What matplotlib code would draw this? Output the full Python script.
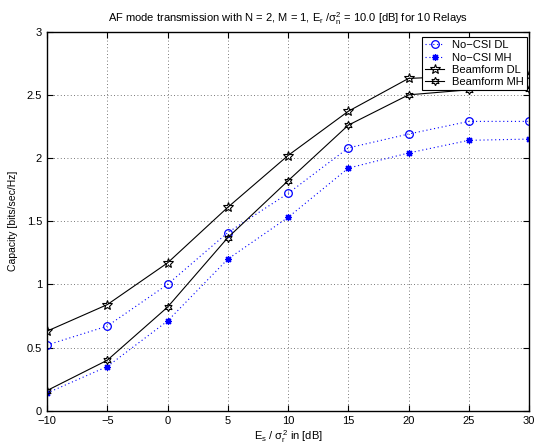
import matplotlib
matplotlib.use('Agg')
import matplotlib.pyplot as plt

plt.rcParams['font.family'] = ['Liberation Sans', 'DejaVu Sans']
plt.rcParams['mathtext.fontset'] = 'custom'
plt.rcParams['mathtext.rm'] = 'Liberation Sans'
plt.rcParams['mathtext.it'] = 'Liberation Sans'

snr = [-10, -5, 0, 5, 10, 15, 20, 25, 30]
nocsi_dl = [0.52, 0.67, 1.00, 1.41, 1.72, 2.08, 2.19, 2.29, 2.29]
nocsi_mh = [0.14, 0.35, 0.71, 1.20, 1.53, 1.92, 2.04, 2.14, 2.15]
beam_dl = [0.63, 0.84, 1.17, 1.61, 2.02, 2.37, 2.63, 2.65, 2.66]
beam_mh = [0.16, 0.40, 0.82, 1.37, 1.82, 2.26, 2.50, 2.54, 2.55]

fig = plt.figure(figsize=(5.38, 4.46), dpi=100)
ax = fig.add_axes([0.0874, 0.079, 0.896, 0.850])

ax.plot(snr, nocsi_dl, color='blue', linestyle=(0, (1, 2.5)), linewidth=0.8, marker='o',
        markerfacecolor='none', markersize=5.5, markeredgewidth=0.9, label='No\u2212CSI DL')
ax.plot(snr, nocsi_mh, color='blue', linestyle=(0, (1, 2.5)), linewidth=0.8, marker=(8, 2, 0),
        markersize=5, markeredgewidth=0.9, label='No\u2212CSI MH')
ax.plot(snr, beam_dl, color='black', linestyle='-', linewidth=0.8, marker='*',
        markerfacecolor='none', markersize=7, markeredgewidth=0.8, label='Beamform DL')
ax.plot(snr, beam_mh, color='black', linestyle='-', linewidth=0.8, marker=(6, 1, 0),
        markerfacecolor='none', markersize=6, markeredgewidth=0.8, label='Beamform MH')

ax.set_xlim(-10, 30)
ax.set_ylim(0, 3)
ax.set_xticks(range(-10, 31, 5))
ax.set_xticklabels([str(v).replace('-', '\u2212') for v in range(-10, 31, 5)])
ax.set_yticks([0, 0.5, 1, 1.5, 2, 2.5, 3])
ax.set_yticklabels(['0', '0.5', '1', '1.5', '2', '2.5', '3'])
ax.grid(True, color='black', linestyle=(0, (1, 3)), linewidth=0.6, alpha=0.7)
ax.tick_params(direction='in', top=True, right=True, labelsize=8, length=4)
for s in ax.spines.values():
    s.set_linewidth(1.0)

ax.set_xlabel(r'E$_{\mathrm{s}}$ / $\sigma^2_{\mathrm{r}}$ in [dB]', fontsize=8, labelpad=2)
ax.set_ylabel('Capacity [bits/sec/Hz]', fontsize=7.5, labelpad=6)
ax.set_title(r'AF mode transmission with N = 2, M = 1, E$_{\mathrm{r}}$ /$\sigma^2_{\mathrm{n}}$ = 10.0 [dB] for 10 Relays',
             fontsize=8, pad=7)

leg = ax.legend(loc='upper right', bbox_to_anchor=(0.996, 0.986), fontsize=8,
                fancybox=False, edgecolor='black', framealpha=1, borderaxespad=0,
                handlelength=1.7, handletextpad=0.7, labelspacing=0.2, borderpad=0.3)
leg.get_frame().set_linewidth(0.8)

fig.savefig('out.png', dpi=100)
